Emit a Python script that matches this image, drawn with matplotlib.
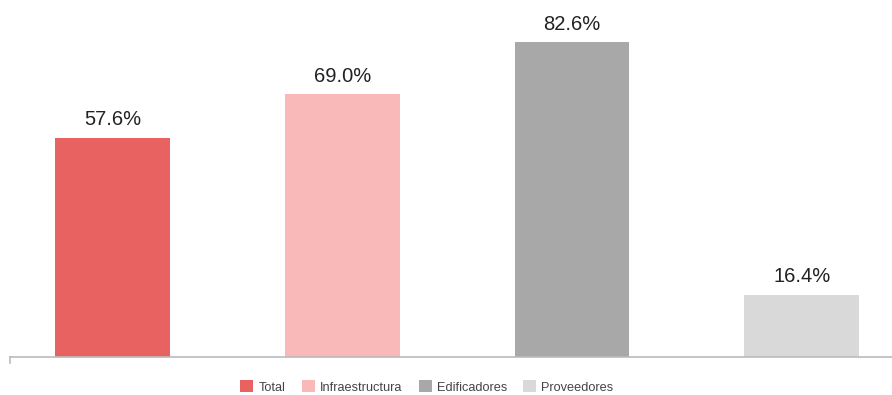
import matplotlib.pyplot as plt
from matplotlib.patches import Patch

plt.rcParams['font.family'] = ['Liberation Sans', 'DejaVu Sans']

# share of firms per sector
categories = ['Total', 'Infraestructura', 'Edificadores', 'Proveedores']
values = [57.6, 69.0, 82.6, 16.4]
colors = ['#E86262', '#F9B9B9', '#A8A8A8', '#D9D9D9']

fig = plt.figure(figsize=(8.92, 3.95), dpi=100)
ax = fig.add_axes([10 / 892, 38 / 395, 882 / 892, 357 / 395])

x = range(len(values))
bars = ax.bar(x, values, width=0.5, color=colors)

for b, v in zip(bars, values):
    ax.annotate(f'{v:.1f}%', (b.get_x() + b.get_width() / 2, v),
                xytext=(0, 6), textcoords='offset points',
                ha='center', va='bottom', fontsize=14.5, color='#222222')

ax.set_xlim(-0.446, 3.393)
ax.set_ylim(0, 93.7)
for s in ['top', 'right', 'left']:
    ax.spines[s].set_visible(False)
ax.spines['bottom'].set_color('#BBBBBB')
ax.spines['bottom'].set_linewidth(1.2)
ax.set_xticks([])
ax.set_yticks([])
# little tick at the left end of the baseline
ax.plot([-0.446, -0.446], [0, -1.5], color='#BBBBBB', lw=1.2, clip_on=False)

handles = [Patch(facecolor=c, label=n) for c, n in zip(colors, categories)]
fig.legend(handles=handles, loc='center', bbox_to_anchor=(427 / 892, 8 / 395),
           ncol=4, frameon=False, fontsize=9.2, handlelength=1.0, handleheight=1.0,
           handletextpad=0.4, columnspacing=1.3, labelcolor='#444444')

fig.savefig('out.png', dpi=100)
